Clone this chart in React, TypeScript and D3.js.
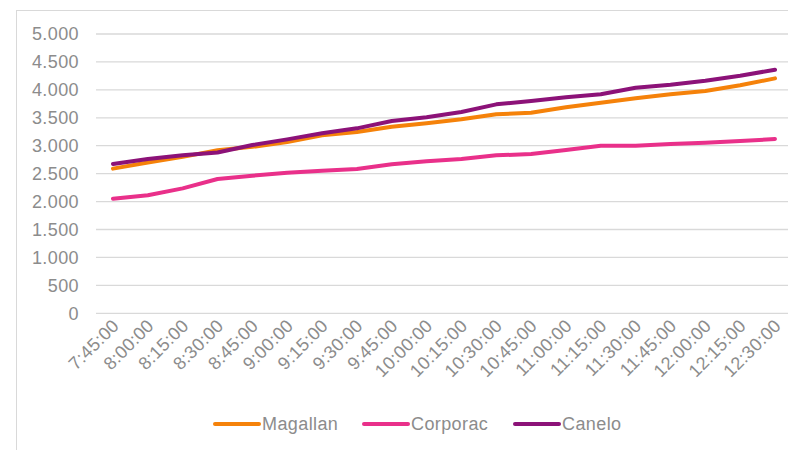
import React from "react";
import * as d3 from "d3";

const categories = [
  "7:45:00", "8:00:00", "8:15:00", "8:30:00", "8:45:00", "9:00:00", "9:15:00",
  "9:30:00", "9:45:00", "10:00:00", "10:15:00", "10:30:00", "10:45:00", "11:00:00",
  "11:15:00", "11:30:00", "11:45:00", "12:00:00", "12:15:00", "12:30:00",
];
const magallan = [2590, 2700, 2800, 2920, 2980, 3066, 3186, 3245, 3340, 3401, 3472, 3562, 3591, 3687, 3770, 3848, 3920, 3979, 4081, 4206];
const corporac = [2051, 2112, 2237, 2404, 2463, 2517, 2553, 2583, 2667, 2721, 2762, 2828, 2851, 2923, 3000, 3001, 3030, 3054, 3084, 3120];
const canelo = [2672, 2762, 2828, 2880, 3013, 3114, 3222, 3311, 3442, 3508, 3603, 3741, 3800, 3866, 3920, 4038, 4092, 4164, 4253, 4361];
const yTicks = [0, 500, 1000, 1500, 2000, 2500, 3000, 3500, 4000, 4500, 5000];

const series = [
  { name: "Magallan", values: magallan, color: "#F5820A" },
  { name: "Corporac", values: corporac, color: "#E9308A" },
  { name: "Canelo", values: canelo, color: "#8C1278" },
];

const W = 788;
const H = 450;

const locale = d3.formatLocale({ decimal: ",", thousands: ".", grouping: [3], currency: ["", "€"] });
const fmt = locale.format(",");

export default function App() {
  const x = d3.scalePoint<string>().domain(categories).range([113, 775]);
  const y = d3.scaleLinear().domain([0, 5000]).range([313.3, 34]);
  const line = d3
    .line<number>()
    .x((_, i) => x(categories[i]) as number)
    .y((d) => y(d));

  const legendItems = [
    { sx: 215, tx: 262 },
    { sx: 364, tx: 411 },
    { sx: 515, tx: 562 },
  ];

  return (
    <svg
      width={W}
      height={H}
      style={{ position: "absolute", left: 0, top: 0, background: "#fff" }}
      fontFamily="'Liberation Sans', Arial, sans-serif"
    >
      <rect x={16.5} y={10.5} width={W} height={H} fill="none" stroke="#d9d9d9" strokeWidth={1} />
      {yTicks.map((t) => (
        <g key={t}>
          <line x1={96} x2={788} y1={y(t)} y2={y(t)} stroke="#d9d9d9" strokeWidth={1.3} />
          <text x={79} y={y(t)} dy="0.36em" textAnchor="end" fontSize={18} letterSpacing={0.4} fill="#8c8c8c">
            {fmt(t)}
          </text>
        </g>
      ))}
      {categories.map((c) => (
        <text
          key={c}
          transform={`translate(${(x(c) as number) + 7},${327}) rotate(-45)`}
          textAnchor="end"
          fontSize={18}
          letterSpacing={0.3}
          fill="#8c8c8c"
        >
          {c}
        </text>
      ))}
      {series.map((s) => (
        <path
          key={s.name}
          d={line(s.values) as string}
          fill="none"
          stroke={s.color}
          strokeWidth={4}
          strokeLinecap="round"
          strokeLinejoin="round"
        />
      ))}
      {series.map((s, i) => (
        <g key={s.name}>
          <line
            x1={legendItems[i].sx}
            x2={legendItems[i].sx + 44}
            y1={424}
            y2={424}
            stroke={s.color}
            strokeWidth={4}
            strokeLinecap="round"
          />
          <text x={legendItems[i].tx} y={424} dy="0.36em" fontSize={18} letterSpacing={0.4} fill="#8c8c8c">
            {s.name}
          </text>
        </g>
      ))}
    </svg>
  );
}
